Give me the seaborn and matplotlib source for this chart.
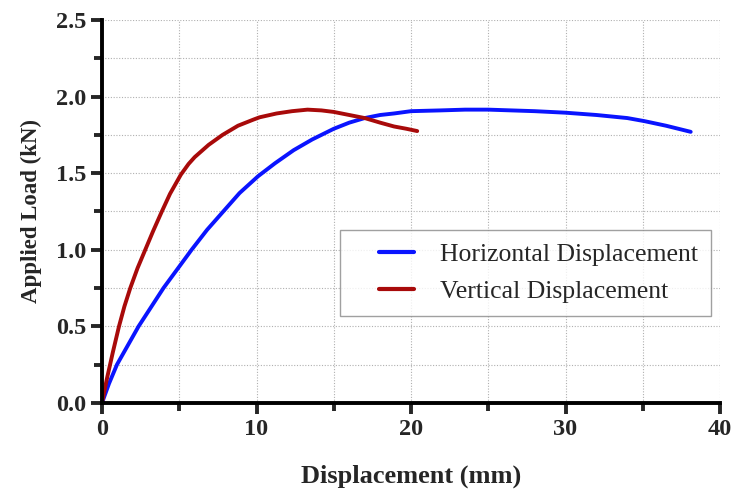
import pandas as pd
import numpy as np
import seaborn as sns
from matplotlib import pyplot as plt
from matplotlib.ticker import MultipleLocator

# horizontal displacement curve (mm, kN)
horiz_x = [0, 0.45, 0.97, 2.37, 3.98, 5.0, 5.8, 6.8, 7.85, 8.9, 10.1, 11.2, 12.4, 13.6, 15, 16, 17, 18, 18.9,
           20, 21.9, 23.5, 25, 26.5, 28, 30, 32, 34, 35.1, 36.5, 37.3, 38.1]
horiz_y = [0, 0.125, 0.25, 0.5, 0.75, 0.89, 1.0, 1.13, 1.25, 1.37, 1.48, 1.565, 1.65, 1.72, 1.79, 1.83, 1.86, 1.88, 1.89,
           1.905, 1.91, 1.915, 1.915, 1.91, 1.905, 1.895, 1.88, 1.86, 1.84, 1.81, 1.79, 1.77]

# vertical displacement curve
vert_x = [0, 0.3, 0.7, 1.1, 1.45, 1.83, 2.3, 2.8, 3.3, 3.85, 4.4, 5.1, 5.6, 6.0, 6.9, 7.8, 8.8, 9.8, 10.2, 11.3,
          12.3, 13.3, 14.2, 15, 16, 17, 18, 18.9, 19.7, 20.4]
vert_y = [0, 0.15, 0.33, 0.5, 0.63, 0.75, 0.88, 1.0, 1.12, 1.245, 1.365, 1.49, 1.56, 1.605, 1.685, 1.75, 1.81, 1.85,
          1.865, 1.89, 1.905, 1.915, 1.91, 1.90, 1.88, 1.86, 1.83, 1.805, 1.79, 1.775]

df = pd.concat([
    pd.DataFrame({"x": horiz_x, "y": horiz_y, "s": "Horizontal Displacement"}),
    pd.DataFrame({"x": vert_x, "y": vert_y, "s": "Vertical Displacement"}),
])

sns.set_style("white")
plt.rcParams['font.family'] = ['Liberation Serif', 'DejaVu Serif']

fig = plt.figure(figsize=(7.34, 4.9), dpi=100)
ax = fig.add_axes([0.139, 0.178, 0.842, 0.781])

sns.lineplot(data=df, x="x", y="y", hue="s", sort=False, estimator=None,
             palette=["#0a14ff", "#a80a0a"], linewidth=2.8, ax=ax,
             solid_joinstyle='round', solid_capstyle='round')

ax.set_xlim(0, 40)
ax.set_ylim(0, 2.5)
ax.xaxis.set_major_locator(MultipleLocator(10))
ax.xaxis.set_minor_locator(MultipleLocator(5))
ax.yaxis.set_major_locator(MultipleLocator(0.5))
ax.yaxis.set_minor_locator(MultipleLocator(0.25))
ax.yaxis.set_major_formatter(plt.FormatStrFormatter('%.1f'))

ax.grid(True, which='both', color='#b0b0b0', linestyle=(0, (1, 1.5)), linewidth=0.8)
for s in ['top', 'right']:
    ax.spines[s].set_visible(False)
for s in ['left', 'bottom']:
    ax.spines[s].set_linewidth(2.8)
    ax.spines[s].set_color('black')

ax.tick_params(which='major', direction='out', length=8, width=2.8, labelsize=17.5, left=True, bottom=True)
ax.tick_params(which='minor', direction='out', length=6, width=2.8, left=True, bottom=True)
for lbl in ax.get_xticklabels() + ax.get_yticklabels():
    lbl.set_fontweight('bold')

ax.set_xlabel("Displacement (mm)", fontsize=19, fontweight='bold', labelpad=18)
ax.set_ylabel("Applied Load (kN)", fontsize=16.5, fontweight='bold', labelpad=10)

leg = ax.legend(loc='upper left', bbox_to_anchor=(0.385, 0.452), fontsize=18.5, frameon=True,
                fancybox=False, edgecolor='#888888', handlelength=2.4, borderpad=0.5,
                labelspacing=0.55, handletextpad=1.0, borderaxespad=0)
leg.get_frame().set_linewidth(1.0)
for line in leg.get_lines():
    line.set_linewidth(3)
    xd = np.asarray(line.get_xdata(), dtype=float)
    line.set_xdata(np.linspace(xd[0] + 19, xd[-1], len(xd)))

fig.savefig("out.png", dpi=100)
